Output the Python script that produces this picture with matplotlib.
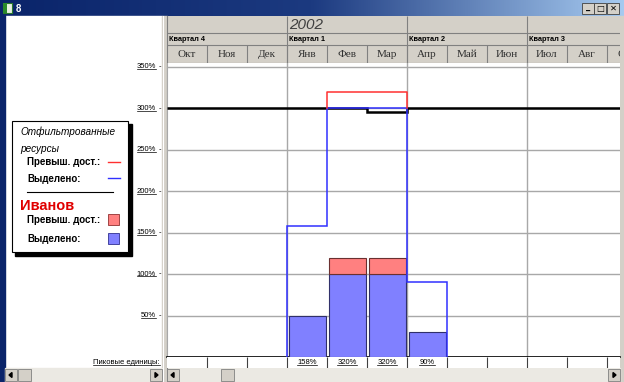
import numpy as np
import matplotlib
matplotlib.use("Agg")
import matplotlib.pyplot as plt
from matplotlib.patches import Rectangle, Polygon
from matplotlib.lines import Line2D
from matplotlib.colors import LinearSegmentedColormap
import matplotlib.transforms as mtransforms

# ---------------- data ----------------
window_title = "8"
year_label = "2002"
quarters = ["Квартал 4", "Квартал 1", "Квартал 2", "Квартал 3"]
months = ["Окт", "Ноя", "Дек", "Янв", "Фев", "Мар", "Апр", "Май", "Июн", "Июл", "Авг", "Сен"]
ivanov_alloc = [0, 0, 0, 50, 100, 100, 30, 0, 0, 0, 0, 0]
ivanov_over = [0, 0, 0, 0, 20, 20, 0, 0, 0, 0, 0, 0]
filtered_alloc = [0, 0, 0, 158, 300, 300, 90, 0, 0, 0, 0, 0]
filtered_over = [0, 0, 0, 0, 20, 20, 0, 0, 0, 0, 0, 0]
max_units = [300, 300, 300, 300, 300, 296, 300, 300, 300, 300, 300, 300]
peak_labels = ["", "", "", "158%", "320%", "320%", "90%", "", "", "", "", ""]
ytick_vals = [50, 100, 150, 200, 250, 300, 350]
legend_title = "Отфильтрованные\nресурсы"
resource_name = "Иванов"
lbl_over = "Превыш. дост.:"
lbl_alloc = "Выделено:"
peak_row_label = "Пиковые единицы:"

# ---------------- layout ----------------
W, H = 624, 382
GRAY = "#d4d0c8"
DARK = "#808080"
fig = plt.figure(figsize=(W / 100, H / 100), dpi=100, facecolor=GRAY)


def box(x0, y0, x1, y1):
    return fig.add_axes([x0 / W, 1 - y1 / H, (x1 - x0) / W, (y1 - y0) / H])


SANS = ["Liberation Sans", "DejaVu Sans"]
SERIF = ["Liberation Serif", "DejaVu Serif"]

bg = box(0, 0, W, H)
bg.set_zorder(0)
bg.axis("off")

# title bar gradient
cm = LinearSegmentedColormap.from_list("tb", ["#0a246a", "#1c3a80", "#a6caf0"])
bg.imshow(np.linspace(0, 1, 256)[None, :], extent=[0, W, 16, 0], aspect="auto", cmap=cm, zorder=1)
bg.add_patch(Rectangle((0, 0), 5, H, color="#0a246a", zorder=2))
bg.add_patch(Rectangle((620, 16), 4, H - 16, color=GRAY, zorder=2))
# icon + title
bg.add_patch(Rectangle((3, 3), 9, 10, facecolor="#e8f0e0", edgecolor="#2a7a2a", lw=0.8, zorder=3))
bg.add_patch(Rectangle((3, 3), 4, 10, facecolor="#2a8a2a", zorder=3))
bg.text(16, 8.5, window_title, color="white", fontsize=7, fontweight="bold", family=SANS,
        va="center", ha="left", zorder=4)
# window buttons
for bx, glyph in [(582, "_"), (594, "□"), (607, "✕")]:
    bg.add_patch(Rectangle((bx, 2.5), 12, 11, facecolor=GRAY, edgecolor="#404040", lw=0.6, zorder=3))
    bg.text(bx + 6, 8, glyph, fontsize=6, fontweight="bold", family=["DejaVu Sans"],
            ha="center", va="center", color="black", zorder=4)

# left pane
bg.add_patch(Rectangle((5, 16), 157, 352, color="white", zorder=1))
# splitter
bg.add_patch(Rectangle((162, 16), 5, H - 16, color=GRAY, zorder=2))
bg.add_artist(Line2D([166.5, 166.5], [16, H], color=DARK, lw=0.8, zorder=3))
bg.add_artist(Line2D([163, 163], [16, H], color="white", lw=0.8, zorder=3))


# scrollbars
def scrollbar(x0, x1, thumb):
    bg.add_patch(Rectangle((x0, 368), x1 - x0, 14, color="#ebe9e3", zorder=2))
    for bx in (x0, x1 - 12):
        bg.add_patch(Rectangle((bx, 369), 12, 12, facecolor=GRAY, edgecolor=DARK, lw=0.6, zorder=3))
    bg.add_patch(Polygon([[x0 + 4, 375], [x0 + 7, 372.5], [x0 + 7, 377.5]], color="black", zorder=4))
    bg.add_patch(Polygon([[x1 - 4, 375], [x1 - 7, 372.5], [x1 - 7, 377.5]], color="black", zorder=4))
    bg.add_patch(Rectangle((thumb, 369), 13, 12, facecolor=GRAY, edgecolor=DARK, lw=0.6, zorder=3))


scrollbar(5, 162, 18)
scrollbar(167, 620, 221)

bg.set_xlim(0, W)
bg.set_ylim(H, 0)

# legend box
bg.add_patch(Rectangle((15, 124), 117, 132, color="black", zorder=5))
bg.add_patch(Rectangle((12, 121), 116, 131, facecolor="white", edgecolor="black", lw=0.8, zorder=6))
bg.text(20, 140, legend_title, fontsize=7.2, style="italic", family=SANS, va="center",
        ha="left", linespacing=1.9, zorder=7)
BLUE_FILL = "#8080ff"
RED_FILL = "#ff8080"
BLUE_LINE = "#3030ff"
RED_LINE = "#ff3030"
bg.text(27, 162, lbl_over, fontsize=7, fontweight="bold", family=SANS, va="center", zorder=7)
bg.add_artist(Line2D([108, 120], [162, 162], color=RED_LINE, lw=1, zorder=7))
bg.text(27, 179, lbl_alloc, fontsize=7, fontweight="bold", family=SANS, va="center", zorder=7)
bg.add_artist(Line2D([108, 120], [178, 178], color=BLUE_LINE, lw=1, zorder=7))
bg.add_artist(Line2D([27, 113], [192, 192], color="black", lw=0.8, zorder=7))
bg.text(20, 206, resource_name, fontsize=10.5, fontweight="bold", family=SANS, va="center",
        color="#e00000", zorder=7)
bg.text(27, 220, lbl_over, fontsize=7, fontweight="bold", family=SANS, va="center", zorder=7)
bg.add_patch(Rectangle((108, 214), 11, 11, facecolor=RED_FILL, edgecolor="#903030", lw=0.6, zorder=7))
bg.text(27, 239, lbl_alloc, fontsize=7, fontweight="bold", family=SANS, va="center", zorder=7)
bg.add_patch(Rectangle((108, 233), 11, 11, facecolor=BLUE_FILL, edgecolor="#303090", lw=0.6, zorder=7))

underline = []
underline.append(bg.text(160, 362.5, peak_row_label, fontsize=5.5, family=SANS, va="center",
                         ha="right", zorder=7))

# ---------------- chart ----------------
XMAX = (620 - 167) / 40.0
PXPCT = (357 - 67) / 350.0
YTOP = (357 - 63) / PXPCT
edges = np.arange(len(months) + 1)
xi = np.arange(len(months))

ax = box(167, 63, 620, 357)
ax.set_zorder(2)
ax.set_facecolor("white")
ax.set_xlim(0, XMAX)
ax.set_ylim(0, YTOP)
ax.set_yticks(ytick_vals)
ax.set_xticks([3, 6, 9])
ax.tick_params(length=0, labelleft=False, labelbottom=False)
ax.grid(True, color="#a8a8a8", lw=1)
ax.set_axisbelow(True)
for s in ("top", "right"):
    ax.spines[s].set_visible(False)
ax.spines["left"].set_color("#a8a8a8")
ax.spines["bottom"].set_color("black")
ax.spines["bottom"].set_linewidth(1.2)

alloc = np.array(ivanov_alloc, float)
over = np.array(ivanov_over, float)
m = alloc > 0
ax.bar(xi[m] + 0.05, alloc[m], width=0.92, align="edge", color=BLUE_FILL,
       edgecolor="#30306a", lw=0.8, zorder=3)
m2 = over > 0
ax.bar(xi[m2] + 0.05, over[m2], bottom=alloc[m2], width=0.92, align="edge", color=RED_FILL,
       edgecolor="#6a3030", lw=0.8, zorder=3)

# max units line
ax.stairs(max_units, edges, baseline=None, color="black", lw=1.8, zorder=4)
# filtered allocated outline
fa = np.array(filtered_alloc, float)
nz = np.nonzero(fa)[0]
a, b = nz[0], nz[-1] + 1
ax.stairs(fa[a:b], edges[a:b + 1], baseline=0, color=BLUE_LINE, lw=1.1, zorder=5)
# filtered overallocation outline
fo = np.array(filtered_over, float)
oz = np.nonzero(fo)[0]
oa, ob = oz[0], oz[-1] + 1
top = (fa + fo)[oa:ob]
xs = np.concatenate([[edges[oa]], np.repeat(edges[oa:ob + 1], 2)[1:-1], [edges[ob]]])
ys = np.concatenate([[fa[oa]], np.repeat(top, 2), [fa[ob - 1]]])
ax.plot(xs, ys, color=RED_LINE, lw=1.1, zorder=5)

# y labels in left pane
tr = mtransforms.blended_transform_factory(bg.transData, ax.transData)
for v in ytick_vals:
    underline.append(bg.text(156, v, f"{v}%", transform=tr, fontsize=5.5, family=SANS,
                             ha="right", va="center", zorder=7))
    bg.text(158.5, v, "-", transform=tr, fontsize=5.5, family=SANS, ha="left", va="center", zorder=7)

# ---------------- header ----------------
hdr = box(167, 16, 620, 63)
hdr.set_zorder(2)
hdr.set_facecolor(GRAY)
hdr.set_xlim(0, XMAX)
hdr.set_ylim(63, 16)
hdr.set_xticks([])
hdr.set_yticks([])
for s in hdr.spines.values():
    s.set_visible(False)
hdr.axhline(33, color=DARK, lw=0.8)
hdr.axhline(45, color=DARK, lw=0.8)
hdr.axhline(62.5, color=DARK, lw=0.8)
hdr.axvline(0, color=DARK, lw=0.8)
hdr.vlines(edges[1:-1], 45, 63, color=DARK, lw=0.8)
hdr.vlines(edges[3:-1:3], 16, 63, color=DARK, lw=0.8)
hdr.text(3.05, 25, year_label, fontsize=11, style="italic", family=SANS, color="#404040",
         ha="left", va="center")
for q, name in enumerate(quarters):
    hdr.text(q * 3 + 0.06, 39.2, name, fontsize=5.3, fontweight="bold", family=SANS,
             ha="left", va="center", clip_on=True)
for i, name in enumerate(months):
    hdr.text(i + 0.5, 54.5, name, fontsize=8, family=SERIF, color="#303030",
             ha="center", va="center", clip_on=True)

# ---------------- peak units row ----------------
pk = box(167, 357, 620, 368)
pk.set_zorder(2)
pk.set_facecolor("white")
pk.set_xlim(0, XMAX)
pk.set_ylim(0, 1)
pk.set_xticks([])
pk.set_yticks([])
for s in pk.spines.values():
    s.set_visible(False)
pk.vlines(edges[1:-1], 0, 1, color="#404040", lw=0.8)
for i, lab in enumerate(peak_labels):
    if lab:
        underline.append(pk.text(i + 0.5, 0.5, lab, fontsize=5.5, family=SANS,
                                 ha="center", va="center"))

# underlines
fig.canvas.draw()
r = fig.canvas.get_renderer()
for t in underline:
    bb = t.get_window_extent(r)
    y = bb.y0 + 1.2
    fig.add_artist(Line2D([bb.x0 / W, bb.x1 / W], [y / H, y / H], transform=fig.transFigure,
                          color="black", lw=0.5, zorder=10))

fig.savefig("out.png", dpi=100, facecolor=GRAY)
